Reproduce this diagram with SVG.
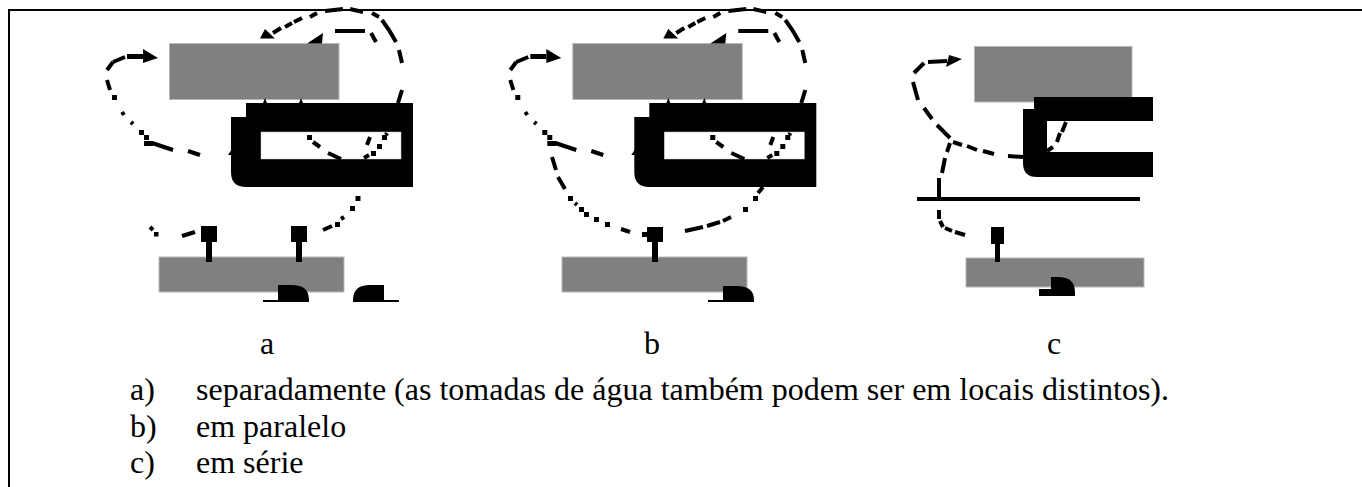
<svg xmlns="http://www.w3.org/2000/svg" xmlns:xlink="http://www.w3.org/1999/xlink" width="1362" height="487" viewBox="0 0 1362 487">
<style>
text{font-family:"Liberation Serif","Times New Roman",serif;font-size:32px;fill:#000}
.g{fill:#808080;stroke:#b8b8b8;stroke-width:1}
.k{fill:#000}
.w{fill:#fff;stroke:#ccc;stroke-width:.5}
.d{fill:none;stroke:#000;stroke-width:4}
</style>
<defs>
<g id="upper">
<path class="k" d="M143 49L158 58L143 63Z"/>
<path class="k" d="M143 54H127V59H143Z"/>
<path class="d" d="M125 57L113 62M113 62L107 70M107 80L110 90M122 112L124 115M131 122L133 124M152 143L173 150M188 151L200 155"/>
<path class="k" d="M112 95h5v5h-5ZM139 130h5v5h-5ZM144 135h5v5h-5ZM144 141h5v5h-5ZM149 141h4v5h-4Z"/>
<path class="k" d="M260 38.500L265 29L275 38.500ZM307 43.500L323 33L322 43.500Z"/>
<path class="d" d="M273 33L281 28M285 27L292 23M294 22L302 18M310 17L317 13M325 11L343 9M350 9L363 12M372 13L379 17M382 20L389 30L396 42M399 50L402 63M402 90L398 103"/>
<path class="k" d="M335 29H365V33H335Z"/>
<path class="d" d="M371 33L376 42"/>
<path class="k" d="M263 103L265 98L267 103ZM299 103L301 98L303 103ZM228 155L232 149L232 155Z"/>
</g>
</defs>
<path d="M1362 10H9V487" fill="none" stroke="#000" stroke-width="2"/>
<g id="node-a-reservoir"><rect class="g" x="169.500" y="43.500" width="169.500" height="56"/></g>
<g id="node-a-coil"><path class="k" d="M246 103H413V187H246Q231 187 231 172V117H246Z"/><rect class="w" x="261" y="132" width="140" height="27"/></g>
<g id="node-a-tank"><rect class="g" x="159" y="257" width="185" height="35"/></g>
<g id="node-a-pump1"><path class="k" d="M201 226H217V242H212V262H206V242H201Z"/></g>
<g id="node-a-pump2"><path class="k" d="M291 226H307V242H302V262H296V242H291Z"/></g>
<g id="node-a-turbine1"><path class="k" d="M278 285H292Q309 285 309 300V302H263V300H278Z"/></g>
<g id="node-a-turbine2"><path class="k" d="M384 285H370Q353 285 353 300V302H399V300H384Z"/></g>
<g id="node-b-reservoir"><rect class="g" x="572.800" y="43.500" width="169.500" height="56"/></g>
<g id="node-b-coil"><path class="k" d="M649.300 103H816.300V187H649.300Q634.300 187 634.300 172V117H649.300Z"/><rect class="w" x="664.300" y="132" width="140" height="27"/></g>
<g id="node-b-tank"><rect class="g" x="562" y="257" width="185" height="35"/></g>
<g id="node-b-pump"><path class="k" d="M647 227H663V242H658V262H652V242H647Z"/></g>
<g id="node-b-turbine"><path class="k" d="M723 286H737Q754 286 754 300V302H708V300H723Z"/></g>
<g id="node-c-reservoir"><rect class="g" x="974.500" y="46.500" width="157.500" height="55.500"/></g>
<g id="node-c-coil"><path class="k" d="M1034 97H1153V121H1047V152H1153V177H1037Q1023 177 1023 163V109H1034Z"/></g>
<g id="node-c-line"><rect class="k" x="917" y="197" width="223" height="4"/></g>
<g id="node-c-tank"><rect class="g" x="966" y="258" width="178" height="29"/></g>
<g id="node-c-pump"><path class="k" d="M991 227H1004V244H1000V262H995V244H991Z"/></g>
<g id="node-c-turbine"><path class="k" d="M1051 277H1058Q1075 277 1075 292V296H1039V289H1051Z"/></g>
<g id="connectors">
<g id="conn-a">
<use xlink:href="#upper" href="#upper"/>
<path class="d" d="M313 142L320 147M328 153L341 159M364 158L369 155M370 137L367 145M387 133L386 135"/>
<path class="d" d="M150 227L153 230M182 236L195 232M323 230L332 226M341 219L344 217"/>
<path class="k" d="M307 135h5v5h-5ZM371 151h5v5h-5ZM377 144h5v5h-5ZM382 135h5v5h-5ZM154 232h4.500v4.500h-4.500ZM335 222h5v5h-5ZM350 206h5v5h-5ZM355.500 196h5v5h-5Z"/>
</g>
<g id="conn-b">
<use xlink:href="#upper" href="#upper" transform="translate(403.300 0)"/>
<path class="d" d="M716.300 142L723.300 147M731.300 153L744.300 159M767.300 158L772.300 155M773.300 137L770.300 145M790.300 133L789.300 135"/>
<path class="d" d="M552 157L556 170M558 177L565 189M575 203L577 205M621 229L630 232M685 231L703 227M707 226L720 222M723 221L731 217M758 193L763 187"/>
<path class="k" d="M710.300 135h5v5h-5ZM774.300 151h5v5h-5ZM780.300 144h5v5h-5ZM785.300 135h5v5h-5ZM568 196h5v5h-5ZM579 207h5v5h-5ZM584 212h5v5h-5ZM594 217h5v5h-5ZM605 222h5v5h-5ZM642 232h5v5h-5ZM743 207h5v5h-5ZM753 196h5v5h-5Z"/>
</g>
<g id="conn-c">
<path class="k" d="M949 55L962 59L946 67Z"/>
<path class="d" d="M928 62L947 61M924 63L914 73M913 82L918 100M924 108L932 119M937 125L950 138M953 142L962 145M967 146L977 150M983 151L994 154M1008 156L1023 157M950 143L947 152M945 158L942 173M939 178V197M1066 122L1062 132M1060 133L1057 142M1053 147L1047 151M939 210V219M940 221L943 227M945 228L952 231M955 232L965 235"/>
</g>
</g>
<g id="labels">
<text x="260" y="354">a</text>
<text x="644" y="354">b</text>
<text x="1047" y="354">c</text>
<text x="130" y="400">a)</text>
<text x="196" y="400">separadamente (as tomadas de água também podem ser em locais distintos).</text>
<text x="130" y="437">b)</text>
<text x="196" y="437">em paralelo</text>
<text x="130" y="473">c)</text>
<text x="196" y="473">em série</text>
</g>
</svg>
